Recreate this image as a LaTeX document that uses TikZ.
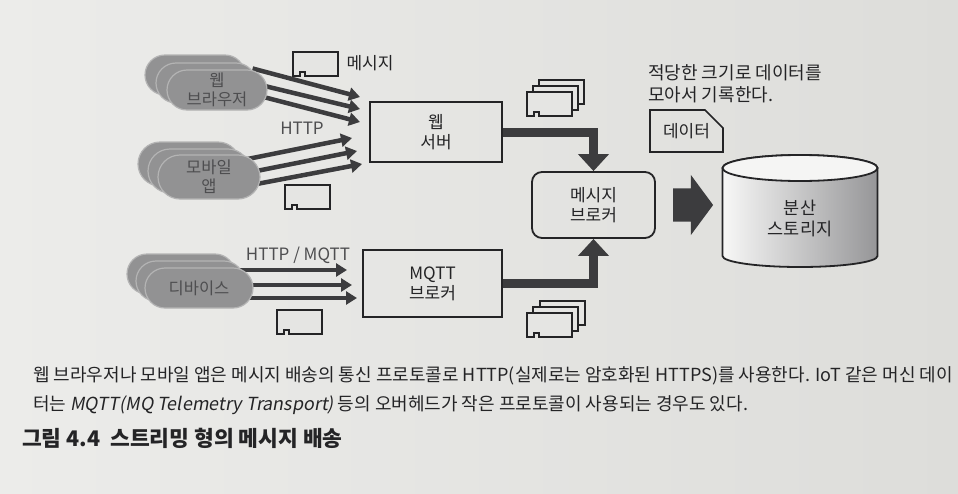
\documentclass[tikz,border=0pt]{standalone}
\usepackage{fontspec}
\setmainfont[AutoFakeSlant=0.18]{Noto Sans CJK KR}
\usepackage{tikz}
\usetikzlibrary{
    arrows.meta,
    positioning,
    shapes.misc,
    shapes.arrows
}
\definecolor{ink}{RGB}{36,36,38}
\definecolor{muted}{RGB}{78,78,80}
\definecolor{pipe}{RGB}{60,60,62}
\definecolor{paper}{RGB}{229,229,227}
\definecolor{paperlight}{RGB}{236,236,234}
\definecolor{paperdark}{RGB}{221,221,218}
\definecolor{pillfill}{RGB}{146,146,147}
\definecolor{pilledge}{RGB}{180,180,180}
\definecolor{drumshade}{RGB}{150,150,152}
\pgfdeclarelayer{paperlayer}
\pgfdeclarelayer{behind}
\pgfsetlayers{paperlayer,behind,main}
\tikzset{
    client/.style={
        rounded rectangle,
        draw=pilledge,
        line width=1.2pt,
        fill=pillfill,
        text=muted,
        minimum width=100pt,
        minimum height=40pt,
        inner sep=0pt,
        align=center,
        font=\fontsize{16.5pt}{19pt}\selectfont
    },
    serverbox/.style={
        rectangle,
        draw=ink,
        line width=1.6pt,
        minimum width=132pt,
        minimum height=60pt,
        align=center,
        text=ink,
        font=\fontsize{17pt}{20pt}\selectfont
    },
    brokerbox/.style={
        serverbox,
        rounded corners=10pt,
        line width=1.8pt,
        minimum width=123pt,
        minimum height=66pt
    },
    docbox/.style={
        chamfered rectangle,
        chamfered rectangle corners=north east,
        chamfered rectangle xsep=9pt,
        chamfered rectangle ysep=9pt,
        draw=ink,
        line width=1.6pt,
        minimum width=73pt,
        minimum height=42pt,
        text=ink,
        font=\fontsize{17pt}{20pt}\selectfont
    },
    storagebox/.style={
        rectangle,
        minimum width=155pt,
        align=center,
        text=ink,
        font=\fontsize{17.5pt}{21pt}\selectfont
    },
    drumbody/.style={
        draw=ink,
        line width=1.8pt,
        left color=paperlight!40!white,
        right color=drumshade
    },
    drumtop/.style={
        draw=ink,
        line width=1.8pt,
        fill=paperlight!50!white
    },
    flowarrow/.style={
        -{Triangle[length=11pt,width=13pt]},
        draw=pipe,
        line width=4.5pt
    },
    pipeline/.style={
        -{Triangle[length=17pt,width=30pt]},
        draw=pipe,
        line width=9pt
    },
    bigflow/.style={
        single arrow,
        fill=pipe,
        inner xsep=0pt,
        inner ysep=16.5pt,
        minimum height=40pt,
        single arrow head extend=13.5pt,
        single arrow tip angle=107
    },
    protolabel/.style={
        text=muted,
        font=\fontsize{17pt}{20pt}\selectfont
    },
    annot/.style={
        text=ink,
        align=left,
        inner sep=0pt,
        font=\fontsize{18pt}{22pt}\selectfont
    },
    captiontext/.style={
        text=ink,
        inner sep=0pt,
        anchor=base west,
        font=\fontsize{18pt}{21pt}\selectfont
    },
    captiontitle/.style={
        captiontext,
        font=\fontsize{21.5pt}{24pt}\selectfont\bfseries
    },
    msgcard/.pic={
        \path[draw=ink, line width=1.6pt, fill=paper]
            (0,0) -- (45,0) -- (45,24) -- (12,24) -- (12,20)
            -- (7,20) -- (7,24) -- (0,24) -- cycle;
    }
}

\begin{document}
\begin{tikzpicture}[x=1pt, y=-1pt]

    % Paper
    \begin{pgfonlayer}{paperlayer}
        \shade[left color=paperlight, right color=paperdark] (0,0) rectangle (958,493);
    \end{pgfonlayer}
    \useasboundingbox (0,0) rectangle (958,493);

% Clients: web browsers
\node[client] (wb3) at (195,75) {};
\node[client] (wb2) at (206,83) {};
\node[client] (wb1) at (217,90) {웹\\브라우저};

% Clients: mobile apps
\node[client, minimum width=102pt, minimum height=44pt] (mb3) at (189,164) {};
\node[client, minimum width=102pt, minimum height=44pt] (mb2) at (199,171) {};
\node[client, minimum width=102pt, minimum height=44pt] (mb1) at (209,177) {모바일\\앱};

% Clients: devices
\node[client, minimum width=108pt] (dv3) at (181,274) {};
\node[client, minimum width=108pt] (dv2) at (190,281) {};
\node[client, minimum width=108pt] (dv1) at (199,288) {디바이스};

% Servers
\node[serverbox] (websrv) at (436,132) {웹\\서버};
\node[serverbox, minimum width=139pt, minimum height=67pt] (mqtt) at (432.5,283.5) {MQTT\\브로커};
\node[brokerbox] (broker) at (593.5,205) {메시지\\브로커};

% Storage side
\node[bigflow, right=17pt of broker] (flow) {};
\node[storagebox] (storage) at (800,218) {분산\\스토리지};
\node[docbox] (datadoc) at (686.5,131) {데이터};
\node[annot, anchor=north west] (note) at (648,64) {적당한 크기로 데이터를\\모아서 기록한다.};

% Protocol labels
\node[protolabel] (http) at (302,128) {HTTP};
\node[protolabel] (httpmqtt) at (298,255) {HTTP / MQTT};

% Messages
\pic (msga) at (293,52) {msgcard};
\node[protolabel, text=ink, anchor=west] (msglabel) at (343,63) {메시지};
\pic (msgb) at (285,185) {msgcard};
\pic (msgc) at (277,310) {msgcard};
\pic (msgd3) at (539,80) {msgcard};
\pic (msgd2) at (533,86) {msgcard};
\pic (msgd1) at (527,92) {msgcard};
\pic (msge3) at (540,301) {msgcard};
\pic (msge2) at (533,307) {msgcard};
\pic (msge1) at (527,313) {msgcard};

% Arrow ends in front of the servers
\coordinate (wt1) at (360,97);
\coordinate (wt2) at (360,109);
\coordinate (wt3) at (360,122);
\coordinate (mt1) at (352,138);
\coordinate (mt2) at (357,151);
\coordinate (mt3) at (362,164);
\coordinate (dt1) at (347,270);
\coordinate (dt2) at (352,285);
\coordinate (dt3) at (357,298);

\begin{pgfonlayer}{behind}
    % HTTP from the clients
    \draw[flowarrow] ([shift={(-15,-21.5)}]wb1.east) -- (wt1);
    \draw[flowarrow] ([shift={(-5,-4.5)}]wb1.east) -- (wt2);
    \draw[flowarrow] ([shift={(-6,6.5)}]wb1.east) -- (wt3);
    \draw[flowarrow] ([shift={(-13,-18)}]mb1.east) -- (mt1);
    \draw[flowarrow] ([shift={(-4,-6)}]mb1.east) -- (mt2);
    \draw[flowarrow] ([shift={(-4,7)}]mb1.east) -- (mt3);
    % HTTP / MQTT from the devices
    \draw[flowarrow] ([shift={(-17,-18)}]dv1.east) -- (dt1);
    \draw[flowarrow] ([shift={(-6,-3)}]dv1.east) -- (dt2);
    \draw[flowarrow] ([shift={(-7,10)}]dv1.east) -- (dt3);

    % Distributed storage drum
    \path[drumbody] ([shift={(-77.5,-50)}]storage.center)
        -- ([shift={(-77.5,38)}]storage.center)
        arc[start angle=180, end angle=360, x radius=77.5pt, y radius=11pt]
        -- ([shift={(77.5,-50)}]storage.center)
        arc[start angle=0, end angle=180, x radius=77.5pt, y radius=13pt]
        -- cycle;
    \path[drumtop] ([shift={(0,-50)}]storage.center)
        ellipse[x radius=77.5pt, y radius=13pt];
\end{pgfonlayer}

% Into the message broker
\draw[pipeline] (websrv.east) -| (broker.north);
\draw[pipeline] (mqtt.east) -| (broker.south);

% Caption
\node[captiontext] (cap1) at (33,381) {웹 브라우저나 모바일 앱은 메시지 배송의 통신 프로토콜로 HTTP(실제로는 암호화된 HTTPS)를 사용한다. IoT 같은 머신 데이};
\node[captiontext] (cap2) at (33,410) {터는 \textit{MQTT(MQ Telemetry Transport)} 등의 오버헤드가 작은 프로토콜이 사용되는 경우도 있다.};
\node[captiontitle] (captitle) at (22,446) {그림 4.4\ \ 스트리밍 형의 메시지 배송};

\end{tikzpicture}
\end{document}
